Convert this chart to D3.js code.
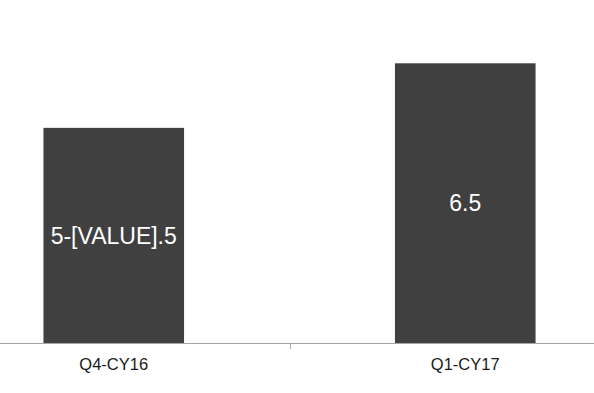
<!DOCTYPE html>
<html>
<head>
<meta charset="utf-8">
<script src="https://cdn.jsdelivr.net/npm/d3@7"></script>
<style>
  body { margin: 0; background: #fff; }
  svg { display: block; font-family: "Liberation Sans", Arial, sans-serif; }
</style>
</head>
<body>
<div id="plot"></div>
<script>
// chart data
var categories = ['Q4-CY16', 'Q1-CY17'];
var values = [5, 6.5];
var barLabels = ['5-[VALUE].5', '6.5'];

var width = 594, height = 393;
var baseY = 343;

var svg = d3.select('#plot')
  .append('svg')
  .attr('width', width)
  .attr('height', height);

// plot area is wider than the picture (cropped on both sides)
var x = d3.scaleBand()
  .domain(categories)
  .range([-62, 641])
  .paddingInner(0.6)
  .paddingOuter(0.3);

var y = d3.scaleLinear()
  .domain([0, 8])
  .range([baseY, baseY - 8 * 43.03]);

var data = categories.map(function(c, i) {
  return {cat: c, value: values[i], label: barLabels[i]};
});

svg.selectAll('rect.bar')
  .data(data)
  .enter()
  .append('rect')
  .attr('class', 'bar')
  .attr('x', function(d) { return x(d.cat); })
  .attr('y', function(d) { return y(d.value); })
  .attr('width', x.bandwidth())
  .attr('height', function(d) { return y(0) - y(d.value); })
  .style('fill', '#404040');

// labels inside the bars
svg.selectAll('text.val')
  .data(data)
  .enter()
  .append('text')
  .attr('class', 'val')
  .attr('x', function(d) { return x(d.cat) + x.bandwidth() / 2; })
  .attr('y', function(d) { return (y(d.value) + y(0)) / 2; })
  .attr('dy', '0.36em')
  .attr('text-anchor', 'middle')
  .style('font-size', '23px')
  .style('fill', '#ffffff')
  .text(function(d) { return d.label; });

// x axis line, tick between the categories
svg.append('line')
  .attr('x1', 0).attr('x2', width)
  .attr('y1', baseY + 0.5).attr('y2', baseY + 0.5)
  .style('stroke', '#a6a6a6')
  .style('stroke-width', 1);

var mid = (x(categories[0]) + x.bandwidth() / 2 + x(categories[1]) + x.bandwidth() / 2) / 2;
svg.append('line')
  .attr('x1', Math.round(mid) + 0.5).attr('x2', Math.round(mid) + 0.5)
  .attr('y1', baseY).attr('y2', baseY + 6)
  .style('stroke', '#a6a6a6')
  .style('stroke-width', 1);

svg.selectAll('text.cat')
  .data(categories)
  .enter()
  .append('text')
  .attr('class', 'cat')
  .attr('x', function(d) { return x(d) + x.bandwidth() / 2; })
  .attr('y', 370)
  .attr('text-anchor', 'middle')
  .style('font-size', '16.5px')
  .style('fill', '#1a1a1a')
  .text(function(d) { return d; });
</script>
</body>
</html>
